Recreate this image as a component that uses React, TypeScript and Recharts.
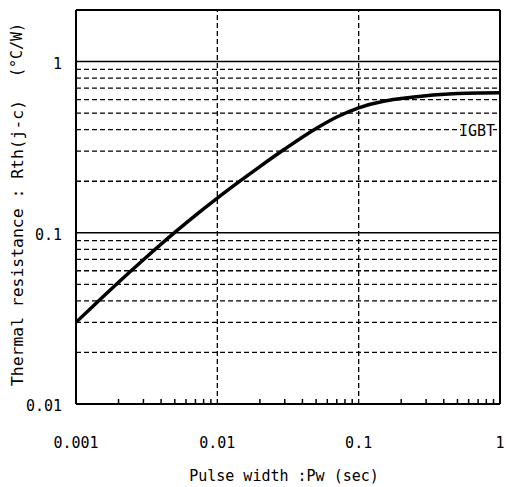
import {
  ComposedChart,
  Line,
  XAxis,
  YAxis,
  ReferenceLine,
} from "recharts";

const pulseWidth = [0.001, 0.0015, 0.002, 0.003, 0.005, 0.007, 0.01, 0.015, 0.02, 0.03, 0.05, 0.07, 0.1, 0.15, 0.2, 0.3, 0.5, 0.7, 1];
const rthJc = [0.03, 0.0412, 0.0514, 0.0696, 0.1005, 0.1264, 0.1594, 0.205, 0.2436, 0.3083, 0.4062, 0.4742, 0.537, 0.587, 0.608, 0.632, 0.65, 0.656, 0.658];

const xDecades = [0.001, 0.01, 0.1, 1];
const xDecadeLabels = ["0.001", "0.01", "0.1", "1"];
const xMinor = [
  0.002, 0.003, 0.004, 0.005, 0.006, 0.007, 0.008, 0.009,
  0.02, 0.03, 0.04, 0.05, 0.06, 0.07, 0.08, 0.09,
  0.2, 0.3, 0.4, 0.5, 0.6, 0.7, 0.8, 0.9,
];
const yDecades = [0.01, 0.1, 1];
const yDecadeLabels = ["0.01", "0.1", "1"];

const solidRows = [0.1, 1];
const dashedRows = [0.02, 0.03, 0.04, 0.05, 0.06, 0.07, 0.08, 0.09, 0.2, 0.3, 0.4, 0.5, 0.6, 0.7, 0.8, 0.9];
const dashedCols = [0.01, 0.1];

const seriesName = "IGBT";

const data = pulseWidth.map((pw, i) => ({ pw, rth: rthJc[i] }));

const FONT = "'DejaVu Sans Mono', monospace";

function XTick(props: any) {
  const { x, y, payload } = props;
  const idx = xDecades.indexOf(payload.value);
  if (idx >= 0) {
    return (
      <text x={x} y={y + 44} textAnchor="middle" fontFamily={FONT} fontSize={15} fill="#000">
        {xDecadeLabels[idx]}
      </text>
    );
  }
  return <line x1={x} x2={x} y1={y} y2={y - 5} stroke="#000" strokeWidth={1.5} />;
}

function YTick(props: any) {
  const { x, y, payload } = props;
  const idx = yDecades.indexOf(payload.value);
  if (idx < 0) return null;
  return (
    <text x={x - 14} y={y + 7} textAnchor="end" fontFamily={FONT} fontSize={15} fill="#000">
      {yDecadeLabels[idx]}
    </text>
  );
}

function SeriesLabel(props: any) {
  const { viewBox } = props;
  const cx = viewBox.x + viewBox.width - 23;
  const cy = viewBox.y;
  return (
    <g>
      <rect x={cx - 16} y={cy - 9} width={32} height={18} fill="#fff" />
      <text x={cx} y={cy + 6} textAnchor="middle" fontFamily={FONT} fontSize={15} fill="#000">
        {seriesName}
      </text>
    </g>
  );
}

export default function App() {
  return (
    <div style={{ position: "absolute", left: 0, top: 0, background: "#fff" }}>
      <ComposedChart
        width={506}
        height={487}
        data={data}
        margin={{ top: 10, right: 6, left: 0, bottom: 0 }}
      >
        <XAxis
          dataKey="pw"
          type="number"
          scale="log"
          domain={[0.001, 1]}
          allowDataOverflow
          ticks={[...xDecades, ...xMinor]}
          interval={0}
          tickSize={0}
          tickMargin={0}
          tickLine={false}
          tick={<XTick />}
          height={83}
          axisLine={{ stroke: "#000", strokeWidth: 2 }}
        />
        <YAxis
          type="number"
          scale="log"
          domain={[0.01, 2]}
          allowDataOverflow
          ticks={yDecades}
          interval={0}
          tickSize={0}
          tickMargin={0}
          tickLine={false}
          tick={<YTick />}
          width={76}
          axisLine={{ stroke: "#000", strokeWidth: 2 }}
        />
        {dashedRows.map((v) => (
          <ReferenceLine key={`r${v}`} y={v} stroke="#000" strokeWidth={1.3} strokeDasharray="5 3" />
        ))}
        {dashedCols.map((v) => (
          <ReferenceLine key={`c${v}`} x={v} stroke="#000" strokeWidth={1.3} strokeDasharray="5 3" />
        ))}
        {solidRows.map((v) => (
          <ReferenceLine key={`s${v}`} y={v} stroke="#000" strokeWidth={1.5} />
        ))}
        <ReferenceLine y={2} stroke="#000" strokeWidth={2} />
        <ReferenceLine x={1} stroke="#000" strokeWidth={2} />
        <ReferenceLine y={0.4} stroke="none" label={<SeriesLabel />} />
        <Line
          type="monotone"
          dataKey="rth"
          stroke="#000"
          strokeWidth={3.5}
          dot={false}
          isAnimationActive={false}
        />
        <text
          x={17}
          y={243}
          transform="rotate(-90 17 243)"
          textAnchor="middle"
          dominantBaseline="central"
          fontFamily={FONT}
          fontSize={16.4}
          fill="#000"
        >
          Thermal resistance : Rth(j-c)
        </text>
        <text
          x={17}
          y={50}
          transform="rotate(-90 17 50)"
          textAnchor="middle"
          dominantBaseline="central"
          fontFamily={FONT}
          fontSize={15}
          fill="#000"
        >
          (°C/W)
        </text>
        <text
          x={284}
          y={481}
          textAnchor="middle"
          fontFamily={FONT}
          fontSize={15}
          fill="#000"
        >
          Pulse width :Pw (sec)
        </text>
      </ComposedChart>
    </div>
  );
}
